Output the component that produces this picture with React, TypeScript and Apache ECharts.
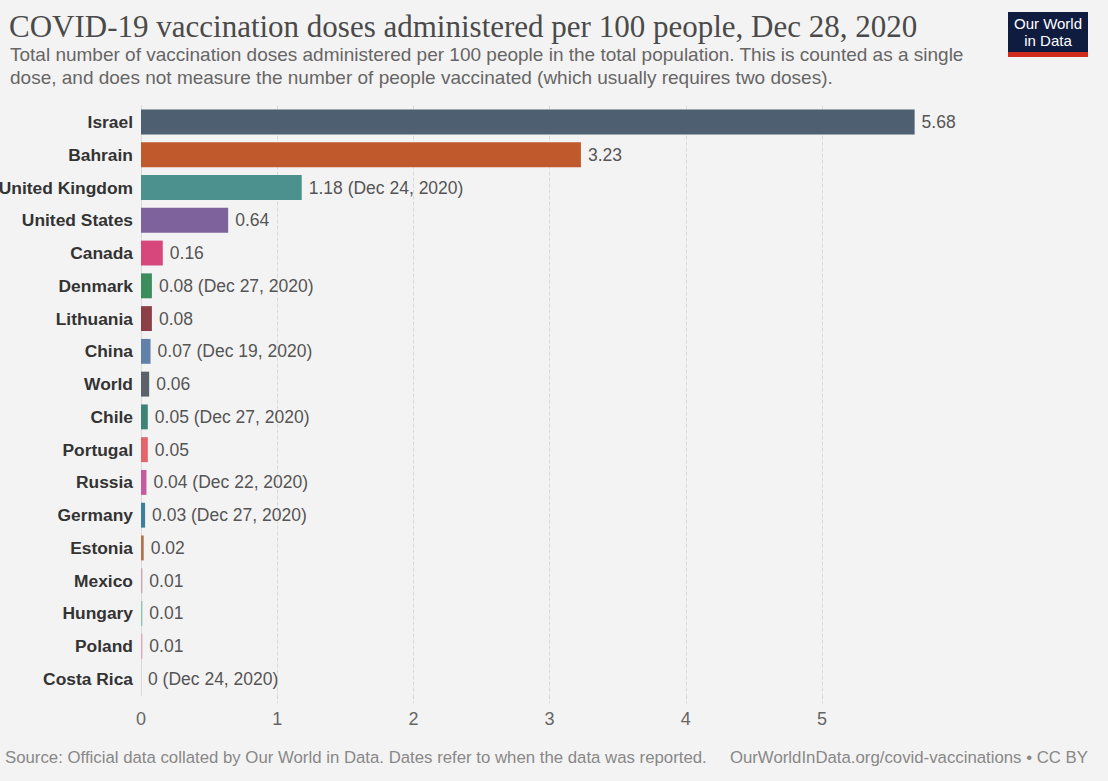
import React, { useEffect, useRef } from "react";
import * as echarts from "echarts";

const countries = [
  "Israel", "Bahrain", "United Kingdom", "United States", "Canada", "Denmark",
  "Lithuania", "China", "World", "Chile", "Portugal", "Russia", "Germany",
  "Estonia", "Mexico", "Hungary", "Poland", "Costa Rica",
];
const values = [5.68, 3.23, 1.18, 0.64, 0.16, 0.08, 0.08, 0.07, 0.06, 0.05, 0.05, 0.04, 0.03, 0.02, 0.01, 0.01, 0.01, 0];
const dateNotes = [
  "", "", "Dec 24, 2020", "", "", "Dec 27, 2020", "", "Dec 19, 2020", "",
  "Dec 27, 2020", "", "Dec 22, 2020", "Dec 27, 2020", "", "", "", "", "Dec 24, 2020",
];
const barColors = [
  "#4d5f71", "#c05a2c", "#4d918e", "#7e629c", "#d8477b", "#3b8d5e",
  "#8c3f47", "#6281a8", "#5c6068", "#3f8377", "#e3646a", "#c65a9e",
  "#3e7f9a", "#b0734e", "#c6a6b4", "#8dc1b1", "#d9a9b9", "#b0b0b0",
];
const tickValues = [0, 1, 2, 3, 4, 5];
const gridValues = [1, 2, 3, 4, 5];

const titleText = "COVID-19 vaccination doses administered per 100 people, Dec 28, 2020";
const subtitleText =
  "Total number of vaccination doses administered per 100 people in the total population. This is counted as a single\ndose, and does not measure the number of people vaccinated (which usually requires two doses).";
const sourceText = "Source: Official data collated by Our World in Data. Dates refer to when the data was reported.";
const urlText = "OurWorldInData.org/covid-vaccinations • CC BY";

export default function App() {
  const ref = useRef<HTMLDivElement>(null);
  useEffect(() => {
    if (!ref.current) return;
    const chart = echarts.init(ref.current, null, { renderer: "svg" });
    const sans = "'Liberation Sans', Arial, Helvetica, sans-serif";
    chart.setOption({
      animation: false,
      backgroundColor: "#f4f3f3",
      title: [
        {
          text: titleText,
          left: 4,
          top: 6,
          textStyle: { fontFamily: "'Liberation Serif', 'Times New Roman', serif", fontSize: 31, fontWeight: "normal", color: "#4a4a4a" },
        },
        {
          text: subtitleText,
          left: 5,
          top: 38,
          textStyle: { fontFamily: sans, fontSize: 19, fontWeight: "normal", color: "#666", lineHeight: 23 },
        },
      ],
      graphic: [
        { type: "rect", shape: { x: 1008, y: 12, width: 80, height: 41 }, style: { fill: "#0f1c3f" } },
        { type: "rect", shape: { x: 1008, y: 52, width: 80, height: 5 }, style: { fill: "#cf2b1f" } },
        {
          type: "text",
          x: 1048,
          y: 32,
          style: {
            text: "Our World\nin Data",
            fill: "#ffffff",
            font: `15px ${sans}`,
            align: "center",
            verticalAlign: "middle",
            lineHeight: 17,
          },
        },
        {
          type: "text",
          x: 5,
          y: 757,
          style: { text: sourceText, fill: "#888", font: `16.8px ${sans}`, verticalAlign: "middle" },
        },
        {
          type: "text",
          x: 1088,
          y: 757,
          style: { text: urlText, fill: "#888", font: `16.8px ${sans}`, align: "right", verticalAlign: "middle" },
        },
      ],
      grid: { left: 141, top: 105.6, height: 589.8, width: 817.2, containLabel: false, outerBoundsMode: "none" },
      xAxis: {
        type: "value",
        min: 0,
        max: 6,
        interval: 1,
        splitLine: { show: false },
        axisLine: { show: false },
        axisTick: { show: true, customValues: gridValues, length: 8, lineStyle: { color: "#d6d6d6", type: "dashed" } },
        axisLabel: { customValues: tickValues, fontFamily: sans, fontSize: 18, color: "#666", margin: 15 },
      },
      yAxis: {
        type: "category",
        inverse: true,
        data: countries,
        axisLine: { show: true, lineStyle: { color: "#d9d9d9", width: 1 } },
        axisTick: { show: false },
        axisLabel: { fontFamily: sans, fontSize: 17.4, fontWeight: "bold", color: "#333", margin: 8 },
      },
      series: [
        {
          type: "bar",
          data: values.map((v, i) => ({ value: v, itemStyle: { color: barColors[i] } })),
          barCategoryGap: "24%",
          label: {
            show: true,
            position: "right",
            distance: 7,
            fontFamily: sans,
            fontSize: 17.5,
            color: "#555",
            formatter: (p: any) => {
              const note = dateNotes[p.dataIndex];
              return note ? `${p.value} (${note})` : `${p.value}`;
            },
          },
          markLine: {
            silent: true,
            symbol: "none",
            label: { show: false },
            lineStyle: { color: "#dadada", type: "dashed", width: 1 },
            data: gridValues.map((v) => ({ xAxis: v })),
            z: 0,
          },
          z: 2,
        },
      ],
    });
    return () => chart.dispose();
  }, []);
  return (
    <div
      ref={ref}
      style={{ position: "fixed", left: 0, top: 0, width: 1108, height: 781 }}
    />
  );
}
